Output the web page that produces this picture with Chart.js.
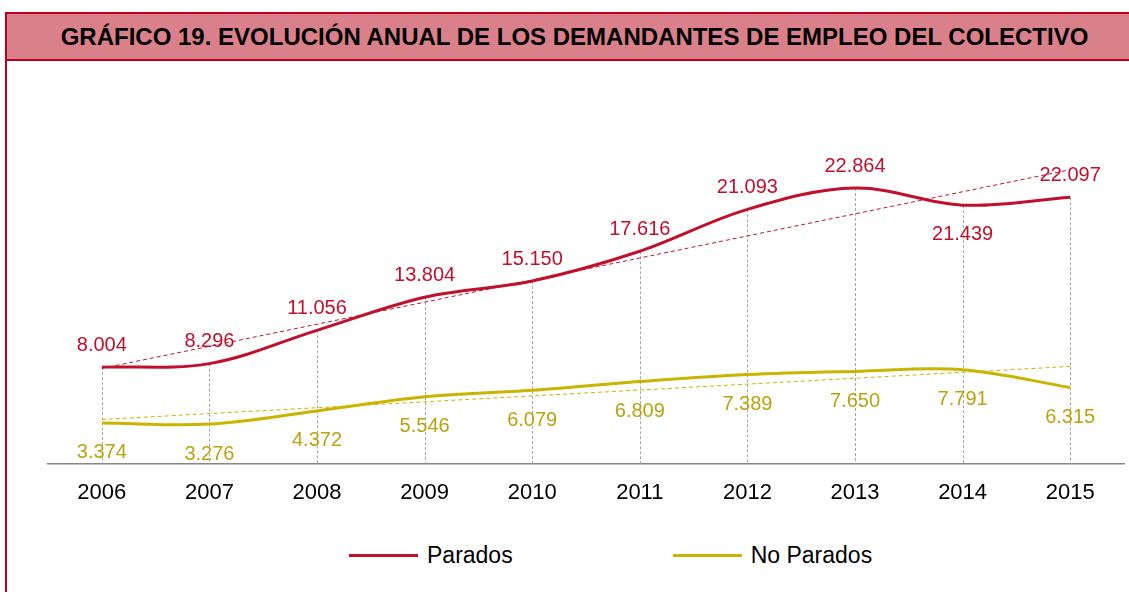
<!DOCTYPE html>
<html>
<head>
<meta charset="utf-8">
<script src="https://cdn.jsdelivr.net/npm/chart.js@4.4.1/dist/chart.umd.min.js"></script>
<style>
  body { margin: 0; width: 1129px; height: 592px; overflow: hidden; background: #fff; font-family: "Liberation Sans", Arial, sans-serif; position: relative; }
  #box { position: absolute; left: 5px; top: 12px; width: 1135px; height: 600px; border: 2px solid #b5001e; border-bottom: none; }
  #title { height: 45px; line-height: 45px; background: #d9808a; border-bottom: 2px solid #b5001e; text-align: center; font-weight: bold; font-size: 24px; color: #000; white-space: nowrap; }
  #wrap { position: absolute; left: 8px; top: 62px; width: 1152px; height: 460px; }
  #legend { position: absolute; top: 541px; left: 349px; height: 28px; display: flex; align-items: center; font-size: 23px; color: #000; }
  .item { display: flex; align-items: center; }
  .swatch { width: 69px; height: 3px; margin-right: 9px; }
</style>
</head>
<body>
<div id="box"><div id="title">GRÁFICO 19. EVOLUCIÓN ANUAL DE LOS DEMANDANTES DE EMPLEO DEL COLECTIVO</div></div>
<div id="wrap"><canvas id="chart"></canvas></div>
<div id="legend"></div>
<script>
// years on the x axis
var years = ['2006', '2007', '2008', '2009', '2010', '2011', '2012', '2013', '2014', '2015'];

// series values
var parados = [8004, 8296, 11056, 13804, 15150, 17616, 21093, 22864, 21439, 22097];
var noParados = [3374, 3276, 4372, 5546, 6079, 6809, 7389, 7650, 7791, 6315];

var redColor = '#c0102c';
var yellowColor = '#c9b400';
var yellowText = '#b9a312';

// linear trend (like the excel trendline)
function trend(values) {
  var n = values.length, sx = 0, sy = 0, sxy = 0, sxx = 0;
  for (var i = 0; i < n; i++) {
    sx += i; sy += values[i]; sxy += i * values[i]; sxx += i * i;
  }
  var slope = (n * sxy - sx * sy) / (n * sxx - sx * sx);
  var b = (sy - slope * sx) / n;
  return values.map(function (v, i) { return b + slope * i; });
}

// 8004 -> 8.004
function fmt(v) {
  return String(v).replace(/\B(?=(\d{3})+(?!\d))/g, '.');
}

// dotted grey lines from the top point down to the axis
var dropLines = {
  id: 'dropLines',
  beforeDatasetsDraw: function (chart) {
    var ctx = chart.ctx;
    var m0 = chart.getDatasetMeta(0).data;
    var m1 = chart.getDatasetMeta(1).data;
    var bottom = chart.chartArea.bottom;
    ctx.save();
    ctx.strokeStyle = '#a6a6a6';
    ctx.lineWidth = 1;
    ctx.setLineDash([3, 2]);
    for (var i = 0; i < m0.length; i++) {
      var top = Math.min(m0[i].y, m1[i].y);
      ctx.beginPath();
      ctx.moveTo(Math.round(m0[i].x) + 0.5, top);
      ctx.lineTo(Math.round(m0[i].x) + 0.5, bottom);
      ctx.stroke();
    }
    ctx.restore();
  }
};

// value labels next to each point
var valueLabels = {
  id: 'valueLabels',
  afterDatasetsDraw: function (chart) {
    var ctx = chart.ctx;
    ctx.save();
    ctx.font = '20px "Liberation Sans", Arial, sans-serif';
    ctx.textAlign = 'center';
    ctx.textBaseline = 'middle';
    [0, 1].forEach(function (d) {
      var ds = chart.data.datasets[d];
      var pts = chart.getDatasetMeta(d).data;
      ctx.fillStyle = ds.labelColor;
      pts.forEach(function (p, i) {
        var side = ds.labelSide[i];
        var dy = side == 'above' ? -22 : ds.belowOffset;
        ctx.fillText(fmt(ds.data[i]), p.x, p.y + dy);
      });
    });
    ctx.restore();
  }
};

var datasets = [
  {
    label: 'Parados',
    data: parados,
    borderColor: redColor,
    backgroundColor: redColor,
    borderWidth: 3,
    tension: 0.35,
    pointRadius: 0,
    labelColor: redColor,
    labelSide: ['above', 'above', 'above', 'above', 'above', 'above', 'above', 'above', 'below', 'above'],
    belowOffset: 29
  },
  {
    label: 'No Parados',
    data: noParados,
    borderColor: yellowColor,
    backgroundColor: yellowColor,
    borderWidth: 3,
    tension: 0.35,
    pointRadius: 0,
    labelColor: yellowText,
    labelSide: years.map(function () { return 'below'; }),
    belowOffset: 30
  },
  {
    label: 'trend1',
    data: trend(parados),
    borderColor: redColor,
    borderWidth: 1,
    borderDash: [4, 3],
    pointRadius: 0,
    tension: 0
  },
  {
    label: 'trend2',
    data: trend(noParados),
    borderColor: yellowColor,
    borderWidth: 1,
    borderDash: [4, 3],
    pointRadius: 0,
    tension: 0
  }
];

var chart = new Chart(document.getElementById('chart'), {
  type: 'line',
  data: { labels: years, datasets: datasets },
  options: {
    responsive: true,
    maintainAspectRatio: false,
    animation: false,
    layout: { padding: { left: 40, right: 36, top: 40, bottom: 0 } },
    plugins: {
      legend: { display: false },
      tooltip: { enabled: false }
    },
    scales: {
      x: {
        offset: true,
        grid: { display: false, drawTicks: false },
        border: { display: true, color: '#868686', width: 1.5 },
        ticks: {
          color: '#000',
          padding: 16,
          font: { family: '"Liberation Sans", Arial, sans-serif', size: 22 }
        }
      },
      y: {
        display: false,
        min: 0,
        max: 30000
      }
    }
  },
  plugins: [dropLines, valueLabels]
});

// legend below the chart (only the two real series)
var legend = document.getElementById('legend');
[datasets[0], datasets[1]].forEach(function (ds, i) {
  var item = document.createElement('div');
  item.className = 'item';
  if (i > 0) item.style.marginLeft = '160px';
  item.innerHTML = '<div class="swatch" style="background:' + ds.borderColor + '"></div><span>' + ds.label + '</span>';
  legend.appendChild(item);
});
</script>
</body>
</html>
